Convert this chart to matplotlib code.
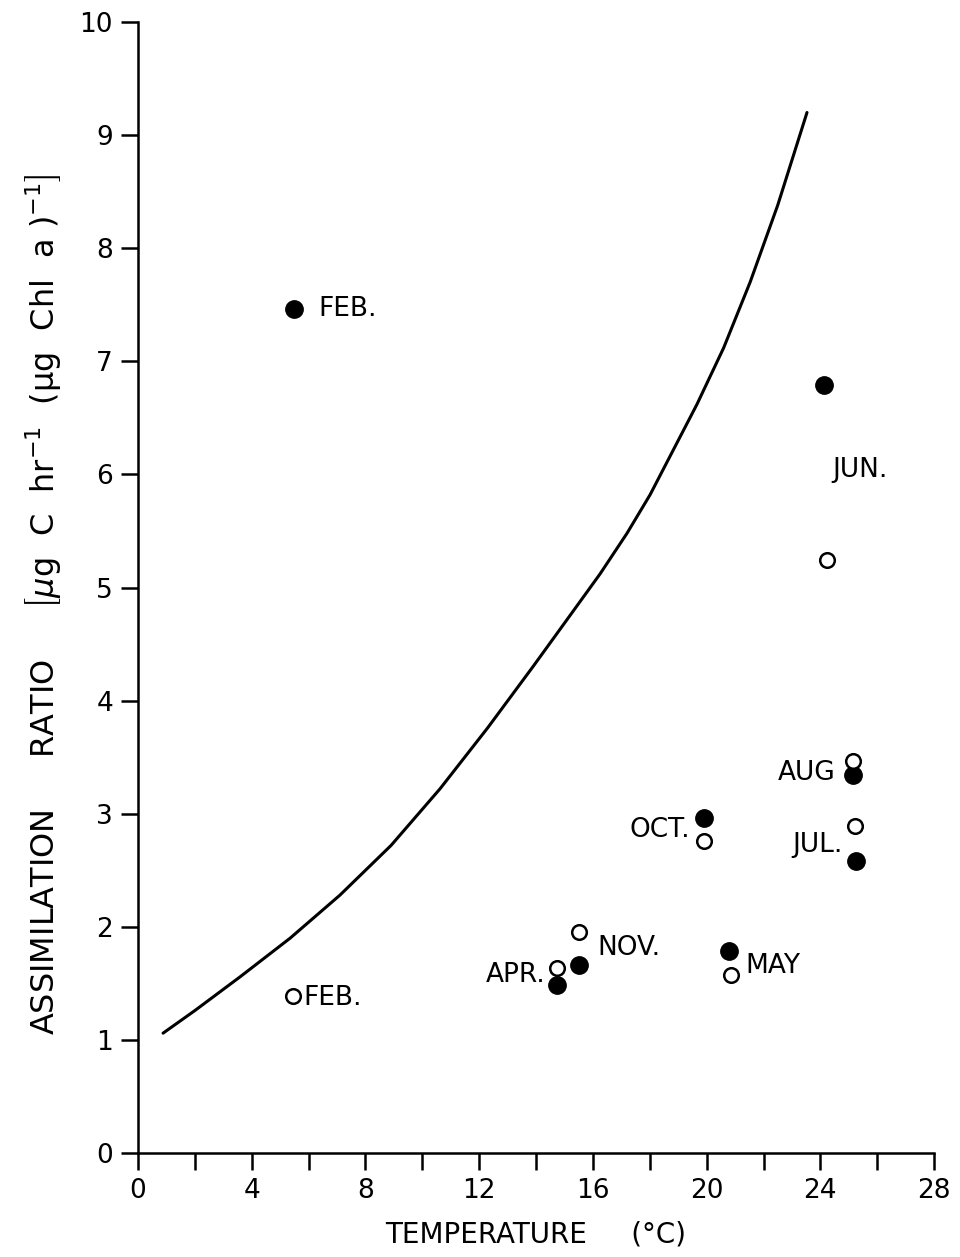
import matplotlib
matplotlib.use("Agg")
import matplotlib.pyplot as plt
from matplotlib.ticker import MultipleLocator

plt.rcParams["font.family"] = ["DejaVu Sans"]
plt.rcParams["mathtext.fontset"] = "dejavusans"

# reference curve (temperature, assimilation ratio)
curve_t = [0.88, 2.0, 3.6, 5.35, 7.1, 8.9, 10.62, 12.3, 13.89, 15.1, 16.25,
           17.2, 18.01, 19.66, 20.6, 21.53, 22.5, 23.53]
curve_r = [1.06, 1.26, 1.56, 1.90, 2.28, 2.72, 3.22, 3.76, 4.30, 4.72, 5.12,
           5.48, 5.82, 6.62, 7.12, 7.70, 8.38, 9.20]

# monthly observations
months = ["FEB.", "APR.", "MAY", "JUN.", "JUL.", "AUG", "OCT.", "NOV."]
temp_filled = [5.49, 14.74, 20.79, 24.13, 25.26, 25.15, 19.91, 15.51]
ratio_filled = [7.46, 1.49, 1.79, 6.79, 2.58, 3.34, 2.96, 1.66]
temp_open = [5.45, 14.74, 20.86, 24.23, 25.22, 25.15, 19.91, 15.51]
ratio_open = [1.39, 1.64, 1.57, 5.24, 2.89, 3.47, 2.76, 1.95]

# label anchors: (text, x, y, alignment)
labels = [
    ("FEB.", 6.33, 7.46, "left"),
    ("FEB.", 5.80, 1.37, "left"),
    ("APR.", 14.32, 1.57, "right"),
    ("NOV.", 16.15, 1.81, "left"),
    ("MAY", 21.35, 1.65, "left"),
    ("OCT.", 19.42, 2.86, "right"),
    ("AUG", 24.52, 3.36, "right"),
    ("JUL.", 24.80, 2.72, "right"),
    ("JUN.", 24.41, 6.04, "left"),
]

fig = plt.figure(figsize=(9.6, 12.57), dpi=100)
ax = fig.add_axes([0.1438, 0.0827, 0.8292, 0.8998])

ax.plot(curve_t, curve_r, color="black", lw=2.2, solid_capstyle="round",
        solid_joinstyle="round")
ax.plot(temp_filled, ratio_filled, "o", color="black", ms=12.5, clip_on=False)
ax.plot(temp_open, ratio_open, "o", mfc="white", mec="black", mew=1.8, ms=10.5,
        clip_on=False)

for txt, x, y, ha in labels:
    ax.text(x, y, txt, ha=ha, va="center", fontsize=19)

ax.set_xlim(0, 28)
ax.set_ylim(0, 10)
ax.xaxis.set_major_locator(MultipleLocator(4))
ax.xaxis.set_minor_locator(MultipleLocator(2))
ax.yaxis.set_major_locator(MultipleLocator(1))

for side in ["top", "right"]:
    ax.spines[side].set_visible(False)
for side in ["left", "bottom"]:
    ax.spines[side].set_linewidth(1.8)

ax.tick_params(axis="both", which="both", direction="out", width=1.8,
               length=12, labelsize=19, pad=6)

ax.set_xlabel("TEMPERATURE     (°C)", fontsize=20, labelpad=12)
ax.set_ylabel(r"ASSIMILATION     RATIO     "
              r"$\left[\mu\mathrm{g\ \ C\ \ hr^{-1}\ \ (\mu g\ \ Chl\ \ a\ )^{-1}}\right]$",
              fontsize=23)
ax.yaxis.set_label_coords(-0.094, 0.485)

fig.savefig("out.png", dpi=100)
